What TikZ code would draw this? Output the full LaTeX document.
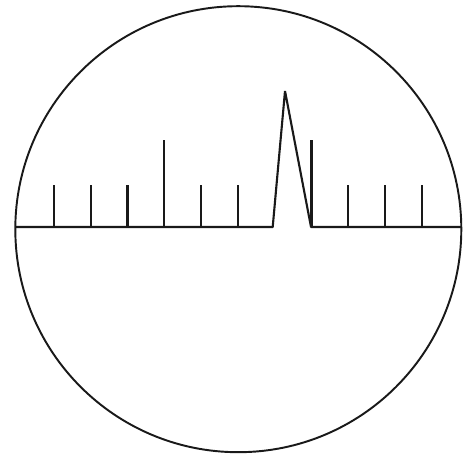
\documentclass[tikz,border=0pt]{standalone}
\usepackage{tikz}
\usetikzlibrary{positioning}
\tikzset{
    scaleline/.style={draw=black!90, line width=1.2pt},
    shorttick/.style={scaleline},
    longtick/.style={scaleline}
}

\begin{document}
\begin{tikzpicture}[x=0.02cm, y=-0.02cm, line join=bevel]
\useasboundingbox (0,0) rectangle (465,455);

% --- Field of view ---
\coordinate (c) at (238.3,229.2);
\draw[scaleline, line width=1.1pt] (c) circle[radius=223];

% --- Base line with the pointer ---
\coordinate (left) at (15.3,227);
\coordinate (peakL) at (272.7,227);
\coordinate (peak) at (285,91);
\coordinate (peakR) at (311,227);
\coordinate (right) at (461.3,227);
\draw[scaleline] (left) -- (peakL) -- (peak) -- (peakR) -- (right);

% --- Ticks ---
\foreach \k in {-3,-2,-1,1,2,5,6,7}
    \draw[shorttick] (164.3+36.8*\k,227) -- ++(0,-41.5);
\foreach \k in {0,4}
    \draw[longtick] (164.3+36.8*\k,227) -- ++(0,-86.5);

\end{tikzpicture}
\end{document}
